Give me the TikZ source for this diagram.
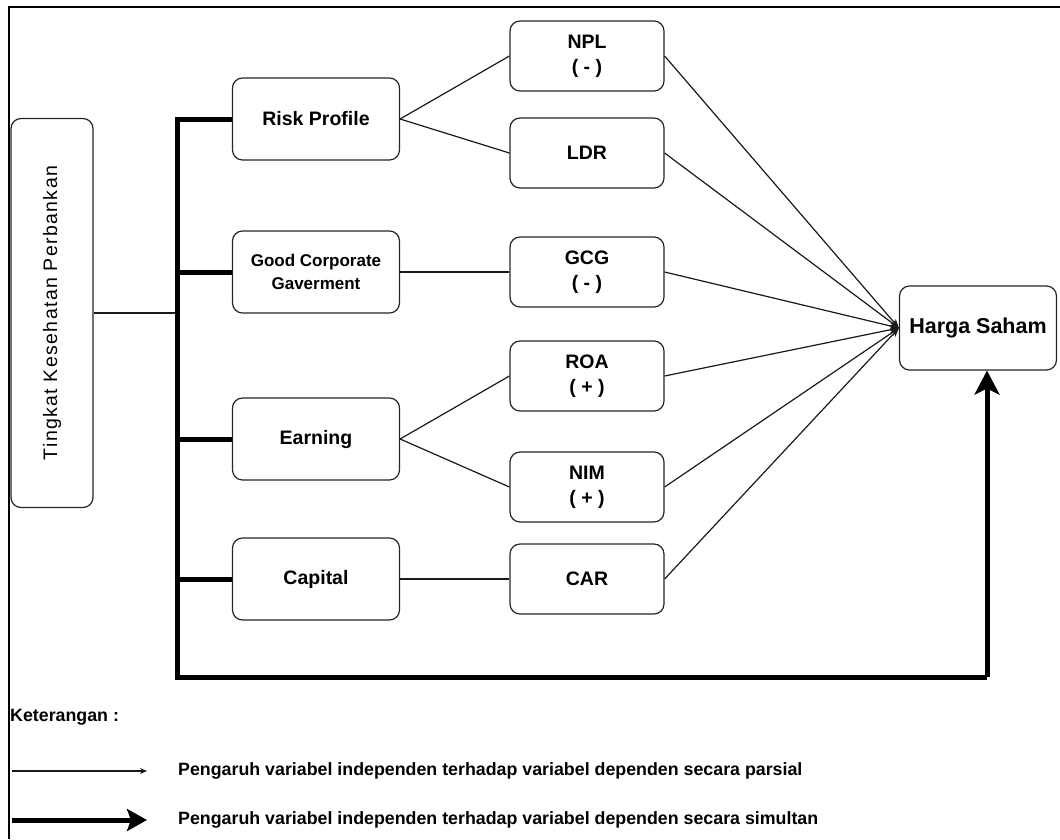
\documentclass[tikz,border=0pt]{standalone}
\usepackage{fontspec}
\setmainfont{Liberation Sans}
\newfontfamily\spacedfont[LetterSpace=7]{Liberation Sans}
\usetikzlibrary{arrows.meta}
\newcommand{\boxfont}{\fontsize{19.5}{25}\selectfont\bfseries}
\tikzset{
  vbox/.style={rectangle,rounded corners=10pt,draw=black!85,line width=1.2pt,
               fill=white,align=center,font=\boxfont,inner sep=2pt},
  dimbox/.style={vbox,minimum width=167pt,minimum height=82pt},
  indbox/.style={vbox,minimum width=154pt,minimum height=70pt},
  tlink/.style={line width=1.2pt,black!90},
  tarrow/.style={tlink,-{Stealth[length=9pt,width=7pt]}},
  tbus/.style={line width=5pt,black},
  legtext/.style={anchor=west,font=\fontsize{17.8}{20}\selectfont\bfseries,inner sep=0pt},
}

\begin{document}
\begin{tikzpicture}[x=1pt,y=-1pt]
  \useasboundingbox (0,0) rectangle (1060,839);
  % frame
  \draw[line width=1.6pt] (9,839) -- (9,7) -- (1060,7);

  % independent side
  \node[vbox,minimum width=82pt,minimum height=389pt,font=\spacedfont\fontsize{19.5}{22}\selectfont]
    (tks) at (52,313) {\rotatebox{90}{Tingkat Kesehatan Perbankan}};
  \node[dimbox] (rp)  at (316,119) {Risk Profile};
  \node[dimbox,font=\fontsize{17}{23}\selectfont\bfseries] (gc) at (316,272) {Good Corporate\\Gaverment};
  \node[dimbox] (ear) at (316,439) {Earning};
  \node[dimbox] (cap) at (316,579) {Capital};

  % indicators
  \node[indbox] (npl)  at (587,56)  {NPL\\( - )};
  \node[indbox] (ldr)  at (587,153) {LDR};
  \node[indbox] (gcgv) at (587,272) {GCG\\( - )};
  \node[indbox] (roa)  at (587,376) {ROA\\( + )};
  \node[indbox] (nim)  at (587,487) {NIM\\( + )};
  \node[indbox] (car)  at (587,579) {CAR};

  % dependent
  \node[vbox,minimum width=157pt,minimum height=84pt,font=\fontsize{21.5}{25}\selectfont\bfseries]
    (hs) at (978,328) {Harga Saham};

  % bus
  \coordinate (btop) at (177,119);
  \coordinate (bbot) at (177,677);
  \coordinate (bend) at (987,677);
  \draw[tlink] (tks.east) -- (tks.east -| btop);
  \draw[tbus] (rp.west) -- (btop) -- (bbot) -- (bend);
  \draw[tbus,-{Stealth[length=24pt,width=25pt,inset=6pt]}] (bend) -- (bend |- hs.south);
  \foreach \d in {gc,ear,cap}
    \draw[tbus] (\d.west) -- (\d.west -| btop);

  % dimensions to indicators
  \draw[tlink] (rp.east) -- (npl.west);
  \draw[tlink] (rp.east) -- (ldr.west);
  \draw[tlink] (gc.east) -- (gcgv.west);
  \draw[tlink] (ear.east) -- (roa.west);
  \draw[tlink] (ear.east) -- (nim.west);
  \draw[tlink] (cap.east) -- (car.west);
  \foreach \i in {npl,ldr,gcgv,roa,nim,car}
    \draw[tarrow] (\i.east) -- (hs.west);

  % legend
  \node[legtext] (ket) at (10,717) {Keterangan :};
  \coordinate (pa) at (12,771);
  \coordinate (pb) at (147,771);
  \coordinate (sa) at (12,820);
  \coordinate (sb) at (147,820);
  \draw[tlink,-{Stealth[length=7pt,width=6pt]}] (pa) -- (pb);
  \draw[tbus,-{Stealth[length=20pt,width=22pt,inset=4pt]}] (sa) -- (sb);
  \node[legtext] (lpar) at (178,771) {Pengaruh variabel independen terhadap variabel dependen secara parsial};
  \node[legtext] (lsim) at (178,820) {Pengaruh variabel independen terhadap variabel dependen secara simultan};
\end{tikzpicture}
\end{document}
